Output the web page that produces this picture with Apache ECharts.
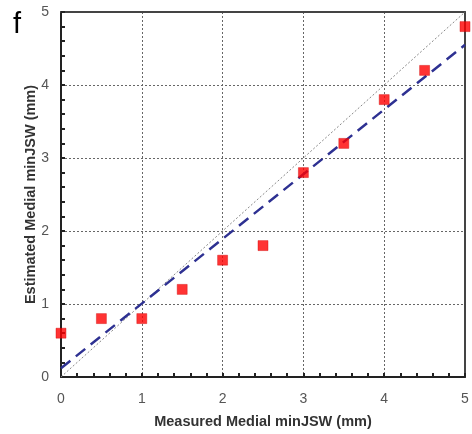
<!DOCTYPE html>
<html>
<head>
<meta charset="utf-8">
<script src="https://cdn.jsdelivr.net/npm/echarts@6/dist/echarts.min.js"></script>
<style>
  html, body { margin: 0; padding: 0; background: #fff; }
  #chart { width: 472px; height: 434px; }
</style>
</head>
<body>
<div id="chart"></div>
<script>
// measured vs estimated medial minJSW (mm)
const measured = [0, 0.5, 1, 1.5, 2, 2.5, 3, 3.5, 4, 4.5, 5];
const estimated = [0.6, 0.8, 0.8, 1.2, 1.6, 1.8, 2.8, 3.2, 3.8, 4.2, 4.8];
const fitLine = [[0, 0.12], [5, 4.55]];
const identityLine = [[0, 0], [5, 5]];
const axisTicks = [0, 1, 2, 3, 4, 5];

const chart = echarts.init(document.getElementById('chart'));
const labelFont = { color: '#555', fontSize: 14, fontFamily: 'Liberation Sans, Arial, sans-serif' };
const nameFont = { color: '#333', fontSize: 14.5, fontWeight: 'bold', fontFamily: 'Liberation Sans, Arial, sans-serif' };

const option = {
    animation: false,
    grid: { left: 61, right: 7, top: 12, bottom: 55 },
    graphic: [{
        type: 'text',
        left: 13, top: 10,
        style: { text: 'f', fontSize: 29, fill: '#000', fontFamily: 'Liberation Sans, Arial, sans-serif' }
    }],
    xAxis: [{
        type: 'value', min: 0, max: 5, interval: 1,
        name: 'Measured Medial minJSW (mm)',
        nameLocation: 'middle', nameGap: 37, nameTextStyle: nameFont,
        axisLine: { onZero: false, lineStyle: { color: '#222', width: 2 } },
        axisTick: { show: true, inside: true, length: 4, lineStyle: { color: '#222', width: 2 } },
        minorTick: { show: true, splitNumber: 5, length: 4, lineStyle: { color: '#222', width: 2 } },
        axisLabel: Object.assign({ margin: 15 }, labelFont),
        splitLine: { show: true, lineStyle: { color: '#666', type: [2, 2], width: 1 } }
    }, {
        type: 'value', min: 0, max: 5, position: 'top',
        axisLine: { show: true, onZero: false, lineStyle: { color: '#444', width: 2 } },
        axisTick: { show: false }, axisLabel: { show: false }, splitLine: { show: false }
    }],
    yAxis: [{
        type: 'value', min: 0, max: 5, interval: 1,
        name: 'Estimated Medial minJSW (mm)',
        nameLocation: 'middle', nameGap: 23, nameMoveOverlap: false, nameTextStyle: nameFont,
        axisLine: { onZero: false, lineStyle: { color: '#222', width: 2 } },
        axisTick: { show: true, inside: true, length: 4, lineStyle: { color: '#222', width: 2 } },
        minorTick: { show: true, splitNumber: 5, length: 4, lineStyle: { color: '#222', width: 2 } },
        axisLabel: Object.assign({ margin: 12, padding: [0, 0, 4, 0] }, labelFont),
        splitLine: { show: true, lineStyle: { color: '#666', type: [2, 2], width: 1 } }
    }, {
        type: 'value', min: 0, max: 5, position: 'right',
        axisLine: { show: true, onZero: false, lineStyle: { color: '#444', width: 2 } },
        axisTick: { show: false }, axisLabel: { show: false }, splitLine: { show: false }
    }],
    series: [
        {
            type: 'line', data: identityLine, symbol: 'none',
            lineStyle: { color: '#888', width: 1, type: [2, 2] }, z: 2
        },
        {
            type: 'line', data: fitLine, symbol: 'none',
            lineStyle: { color: '#2e3192', width: 2.5, type: [12, 7] }, z: 3
        },
        {
            type: 'scatter', symbol: 'rect', symbolSize: 10,
            data: measured.map((m, i) => [m, estimated[i]]),
            itemStyle: { color: '#ff0000', borderColor: '#cc0000', borderWidth: 0.5 }, z: 4
        }
    ]
};
chart.setOption(option);
</script>
</body>
</html>
